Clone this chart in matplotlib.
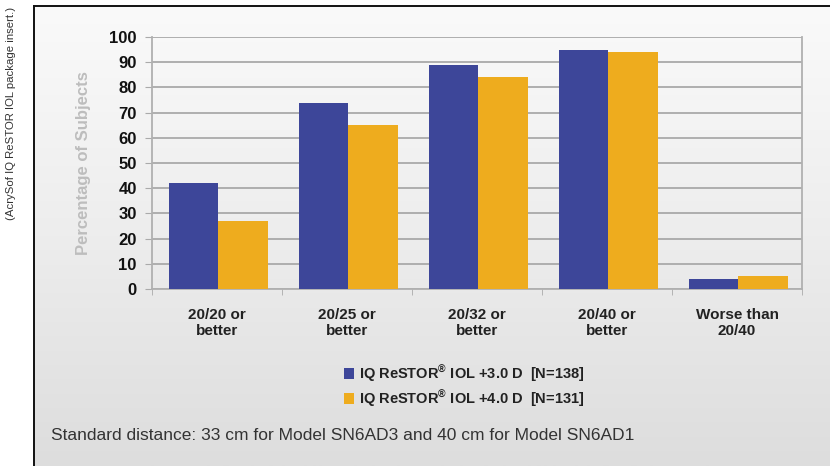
import matplotlib
matplotlib.use("Agg")
import matplotlib.pyplot as plt
import numpy as np
from matplotlib.colors import LinearSegmentedColormap

categories = ["20/20 or\nbetter", "20/25 or\nbetter", "20/32 or\nbetter", "20/40 or\nbetter", "Worse than\n20/40"]
series_30 = [42, 74, 89, 95, 4]
series_40 = [27, 65, 84, 94, 5]
series_names = ["IQ ReSTOR$^{\\mathregular{®}}$ IOL +3.0 D  [N=138]", "IQ ReSTOR$^{\\mathregular{®}}$ IOL +4.0 D  [N=131]"]
yticks = [0, 10, 20, 30, 40, 50, 60, 70, 80, 90, 100]

BLUE = "#3d4699"
ORANGE = "#eeac1e"

plt.rcParams['font.family'] = ['Liberation Sans', 'DejaVu Sans']
plt.rcParams['mathtext.fontset'] = 'custom'
plt.rcParams['mathtext.rm'] = 'Liberation Sans:bold'
plt.rcParams['mathtext.it'] = 'Liberation Sans:bold'
plt.rcParams['mathtext.bf'] = 'Liberation Sans:bold'

W, H = 830, 466
fig = plt.figure(figsize=(W / 100, H / 100), dpi=100)
fig.patch.set_facecolor("white")

# background gradient inside frame
bg = fig.add_axes([33 / W, 0, 1 - 33 / W, 1 - 6 / H], zorder=-10)
grad = np.linspace(0, 1, 256).reshape(-1, 1)
cmap = LinearSegmentedColormap.from_list("g", ["#fafafa", "#ededed", "#dddddd"])
bg.imshow(grad, aspect="auto", cmap=cmap, extent=[0, 1, 0, 1], origin="upper")
bg.set_axis_off()

# frame lines
fig.add_artist(plt.Line2D([33.5 / W, 33.5 / W], [0, 1 - 6 / H], color="#111111", lw=1.4, transform=fig.transFigure))
fig.add_artist(plt.Line2D([33.5 / W, 1], [1 - 6 / H, 1 - 6 / H], color="#111111", lw=1.4, transform=fig.transFigure))

# side note
fig.text(11 / W, 1 - 113 / H, "(AcrySof IQ ReSTOR IOL package insert.)", rotation=90,
         ha="center", va="center", fontsize=8.2, color="#333333",
         family=['Liberation Sans Narrow', 'Liberation Sans', 'DejaVu Sans'])

left, right = 152 / W, 802 / W
bottom, top = 1 - 289 / H, 1 - 37 / H
ax = fig.add_axes([left, bottom, right - left, top - bottom])
ax.set_facecolor("none")

x = np.arange(len(categories))
bw = 0.38
b1 = ax.bar(x - bw / 2 + 0.01, series_30, bw, color=BLUE, label=series_names[0], zorder=3)
b2 = ax.bar(x + bw / 2 + 0.01, series_40, bw, color=ORANGE, label=series_names[1], zorder=3)

ax.set_xlim(-0.5, len(categories) - 0.5)
ax.set_ylim(0, 100)
ax.set_yticks(yticks)
ax.set_yticklabels([str(v) for v in yticks], fontsize=12, fontweight="bold", color="#111111")
ax.grid(axis="y", color="#a9a9a9", lw=1.3, zorder=1)
ax.set_xticks(x)
ax.set_xticklabels(categories, fontsize=11, fontweight="bold", color="#222222", linespacing=1.15)
ax.set_xticks(np.arange(len(categories) + 1) - 0.5, minor=True)
ax.tick_params(axis="x", which="major", length=0, pad=14)
ax.tick_params(axis="x", which="minor", length=4, color="#aaaaaa")
ax.tick_params(axis="y", length=5, color="#aaaaaa", pad=6)
for s in ["left", "right", "bottom"]:
    ax.spines[s].set_color("#b0b0b0")
    ax.spines[s].set_linewidth(1.3)
ax.spines["top"].set_visible(False)

ax.set_ylabel("Percentage of Subjects", fontsize=12, fontweight="bold", color="#bdbdbd", labelpad=13)

leg = fig.legend(handles=[b1, b2], labels=series_names, loc="upper left",
                 bbox_to_anchor=(344 / W, 1 - 363 / H), frameon=False,
                 prop={"weight": "bold", "size": 10.5}, handlelength=0.7, handleheight=0.7,
                 handletextpad=0.35, labelspacing=0.3, borderpad=0, borderaxespad=0)
for t in leg.get_texts():
    t.set_color("#222222")

fig.text(51 / W, 1 - 435 / H, "Standard distance: 33 cm for Model SN6AD3 and 40 cm for Model SN6AD1",
         ha="left", va="center", fontsize=12.5, color="#333333")

fig.savefig("out.png", dpi=100)
